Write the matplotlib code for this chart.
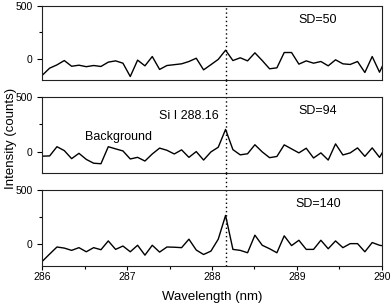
import numpy as np
import matplotlib
matplotlib.use("Agg")
import matplotlib.pyplot as plt
from matplotlib.ticker import MultipleLocator

plt.rcParams['font.family'] = ['Liberation Sans', 'DejaVu Sans']

# wavelength grid (nm), step
wl_start = 286.0
wl_step = 0.0864
n_pts = 48
wavelength = wl_start + wl_step * np.arange(n_pts)

sd50 = [-155, -88, -57, -16, -70, -60, -74, -63, -72, -31, -19, -41, -167, -12, -66, 22,
        -100, -63, -55, -47, -25, 6, -104, -55, -5, 82, -16, 10, -19, 57, -16, -94,
        -85, 60, 60, -50, -19, -41, -25, -66, -9, -47, -53, -25, -129, 22, -126, 20]

sd94 = [-42, -40, 45, 9, -65, -16, -72, -107, -112, 45, 25, 6, -68, -53, -87, -22,
        32, 12, -22, 16, -53, 0, -78, -3, 40, 204, 18, -30, -20, 63, -3, -56,
        -45, 62, 25, -12, 31, -59, -12, -78, 71, -31, -12, 34, -44, 34, -53, 60]

sd140 = [-157, -90, -25, -35, -56, -31, -69, -31, -50, 31, -47, -16, -69, -9, -100, -9,
         -72, -25, -27, -31, 47, -53, -94, -63, 47, 266, -47, -56, -78, 84, -9, -41,
         -78, 78, -12, 37, -47, -47, 37, -41, 31, -31, 6, 6, -69, 16, -9, -20]

series = [sd50, sd94, sd140]
sd_labels = ["SD=50", "SD=94", "SD=140"]
x_ticks = [286, 287, 288, 289, 290]
y_ticks = [0, 500]
line_pos = 288.16

fig = plt.figure(figsize=(3.92, 3.06), dpi=100)
W, H = 392, 306
left, right = 42.3, 381.7
panels = [(6, 80), (97.3, 173.3), (190, 266)]
axes = []
for (top, bot) in panels:
    ax = fig.add_axes([left / W, 1 - bot / H, (right - left) / W, (bot - top) / H])
    axes.append(ax)

for i, (ax, vals, lab) in enumerate(zip(axes, series, sd_labels)):
    ax.plot(wavelength, vals, color='black', lw=1.0)
    ax.set_xlim(286, 290)
    ax.set_ylim(-200, 500)
    ax.set_yticks(y_ticks)
    ax.yaxis.set_minor_locator(MultipleLocator(250))
    ax.tick_params(axis='y', which='major', direction='out', length=3.5, width=0.8,
                   labelsize=7.5, pad=3.5)
    ax.tick_params(axis='y', which='minor', direction='out', length=2.5, width=0.8)
    for s in ax.spines.values():
        s.set_linewidth(0.8)
        s.set_color('#222222')
    ymax = 1.0 if i == 0 else 1.25
    ax.axvline(line_pos, ymin=0, ymax=ymax, color='black', lw=1.0,
               linestyle=(0, (1, 2)), clip_on=False)
    ax.text(289.25, 370, lab, fontsize=9, ha='center', va='center')
    if i < 2:
        ax.set_xticks([])
    else:
        ax.set_xticks(x_ticks)
        ax.xaxis.set_minor_locator(MultipleLocator(0.5))
        ax.tick_params(axis='x', which='major', direction='out', length=3, width=0.8,
                       labelsize=7.5, pad=1)
        ax.tick_params(axis='x', which='minor', direction='out', length=2.5, width=0.8)
        ax.set_xlabel("Wavelength (nm)", fontsize=9.5, labelpad=7)

axes[1].text(288.075, 330, "Si I 288.16", fontsize=9, ha='right', va='center')
axes[1].text(286.90, 133, "Background", fontsize=9, ha='center', va='center')

fig.text(5 / W, 1 - 138 / H, "Intensity (counts)", rotation=90, fontsize=9.5,
         ha='left', va='center')

fig.savefig("out.png", dpi=100)
